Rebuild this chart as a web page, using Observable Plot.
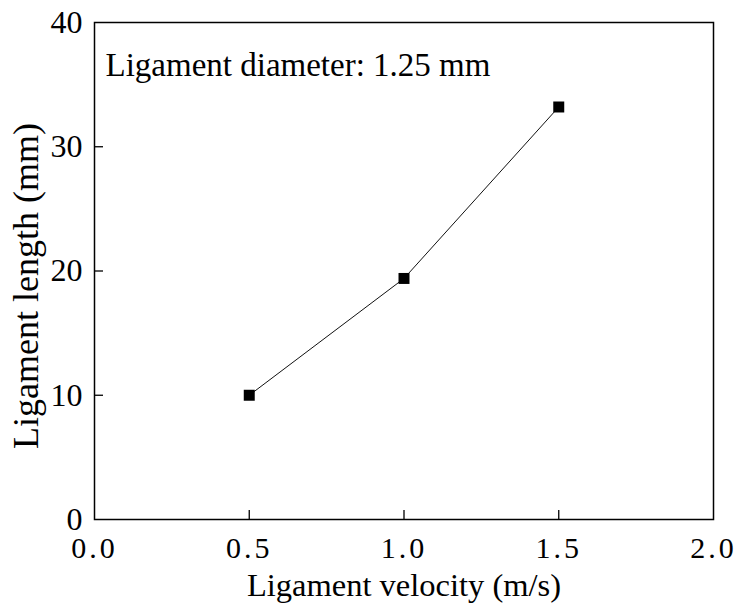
<!DOCTYPE html>
<html>
<head>
<meta charset="utf-8">
<script src="https://cdn.jsdelivr.net/npm/d3@7"></script>
<script src="https://cdn.jsdelivr.net/npm/@observablehq/plot@0.6"></script>
<style>
  html, body { margin: 0; padding: 0; background: #fff; }
  .xt text { letter-spacing: 3px; }
</style>
</head>
<body>
<div id="chart"></div>
<script>
const velocity = [0.5, 1.0, 1.5];
const length = [10.0, 19.4, 33.2];
const xTicks = [0.0, 0.5, 1.0, 1.5, 2.0];
const yTicks = [0, 10, 20, 30, 40];
const xLabel = "Ligament velocity (m/s)";
const yLabel = "Ligament length (mm)";
const note = "Ligament diameter: 1.25 mm";

const data = velocity.map((v, i) => ({v, L: length[i]}));
const serif = "'Liberation Serif', 'Times New Roman', serif";

const chart = Plot.plot({
  width: 738,
  height: 609,
  marginLeft: 94,
  marginRight: 25,
  marginTop: 22,
  marginBottom: 90,
  style: {fontFamily: serif, background: "#fff", color: "#000"},
  x: {domain: [0, 2], ticks: xTicks},
  y: {domain: [0, 40], ticks: yTicks},
  marks: [
    Plot.frame({stroke: "#000", strokeWidth: 1.5}),
    Plot.axisX({ticks: xTicks.slice(1, -1), tickSize: -9, text: null, label: null, strokeWidth: 1.3}),
    Plot.axisX({ticks: xTicks, tickSize: 0, tickPadding: 17, fontSize: 30, label: null,
      tickFormat: d => d.toFixed(1), className: "xt", dx: 0}),
    Plot.axisY({ticks: yTicks.slice(1, -1), tickSize: -9, text: null, label: null, strokeWidth: 1.3}),
    Plot.axisY({ticks: yTicks, tickSize: 0, tickPadding: 12, fontSize: 32, label: null}),
    Plot.line(data, {x: "v", y: "L", stroke: "#111", strokeWidth: 1}),
    Plot.dot(data, {x: "v", y: "L", symbol: "square", r: 6.2, fill: "#000", stroke: "none"}),
    Plot.text([note], {frameAnchor: "top-left", text: d => d, dx: 11, dy: 53, lineAnchor: "bottom",
      textAnchor: "start", fontSize: 33, fill: "#000"}),
    Plot.text([xLabel], {frameAnchor: "bottom", text: d => d, dy: 76, lineAnchor: "bottom",
      fontSize: 32.5, fill: "#000"}),
    Plot.text([yLabel], {frameAnchor: "left", text: d => d, dx: -57, dy: 15, rotate: -90,
      textAnchor: "middle", lineAnchor: "bottom", fontSize: 36, fill: "#000"})
  ]
});
document.getElementById("chart").appendChild(chart);
</script>
</body>
</html>
